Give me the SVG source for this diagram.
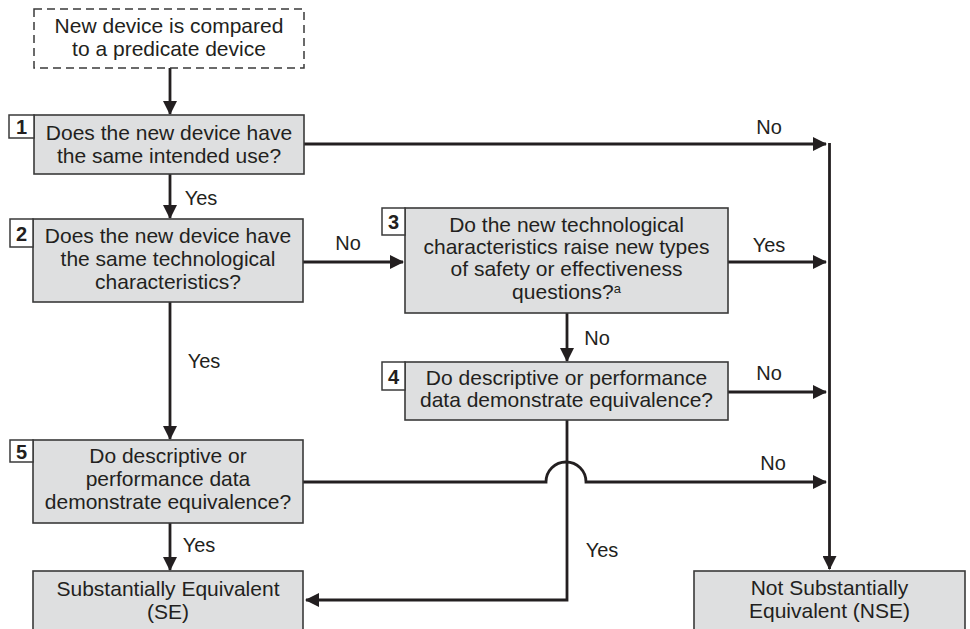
<svg xmlns="http://www.w3.org/2000/svg" width="970" height="629" viewBox="0 0 970 629">
<style>
.box{fill:#dedfe0;stroke:#3a3a3a;stroke-width:1.6}
.start{fill:#fff;stroke:#3a3a3a;stroke-width:1.5;stroke-dasharray:8 5}
.num{fill:#fff;stroke:#3a3a3a;stroke-width:1.5}
.t{font-family:"Liberation Sans",Arial,sans-serif;font-size:21px;fill:#231f20;text-anchor:middle}
.n{font-family:"Liberation Sans",Arial,sans-serif;font-size:20px;font-weight:bold;fill:#231f20;text-anchor:middle}
.lbl{font-family:"Liberation Sans",Arial,sans-serif;font-size:20px;fill:#231f20;text-anchor:middle}
.c{fill:none;stroke:#231f20;stroke-width:2.8}
</style>
<defs>
<marker id="ah" viewBox="0 0 14 14" refX="13" refY="7" markerWidth="14" markerHeight="14" markerUnits="userSpaceOnUse" orient="auto">
<path d="M0,0 L14,7 L0,14 Z" fill="#231f20"/>
</marker>
</defs>

<g id="connectors">
<line class="c" x1="170" y1="68" x2="170" y2="114" marker-end="url(#ah)"/>
<line class="c" x1="170" y1="174" x2="170" y2="218" marker-end="url(#ah)"/>
<line class="c" x1="170" y1="302" x2="170" y2="439" marker-end="url(#ah)"/>
<line class="c" x1="170" y1="523" x2="170" y2="570" marker-end="url(#ah)"/>
<line class="c" x1="304" y1="144" x2="826" y2="144" marker-end="url(#ah)"/>
<line class="c" x1="303" y1="262" x2="403" y2="262" marker-end="url(#ah)"/>
<line class="c" x1="728" y1="262" x2="826" y2="262" marker-end="url(#ah)"/>
<line class="c" x1="567" y1="313" x2="567" y2="361" marker-end="url(#ah)"/>
<line class="c" x1="728" y1="392" x2="826" y2="392" marker-end="url(#ah)"/>
<path class="c" d="M303,482 H546 A20,20 0 0 1 586,482 H826" marker-end="url(#ah)"/>
<path class="c" d="M567,420 V600 H306" marker-end="url(#ah)"/>
<line class="c" x1="829.5" y1="143" x2="829.5" y2="569" marker-end="url(#ah)"/>
<text class="lbl" x="769" y="134">No</text>
<text class="lbl" x="201" y="205">Yes</text>
<text class="lbl" x="348" y="250">No</text>
<text class="lbl" x="769" y="252">Yes</text>
<text class="lbl" x="597" y="345">No</text>
<text class="lbl" x="204" y="368">Yes</text>
<text class="lbl" x="769" y="380">No</text>
<text class="lbl" x="773" y="470">No</text>
<text class="lbl" x="199" y="552">Yes</text>
<text class="lbl" x="602" y="557">Yes</text>
</g>

<g id="start">
<rect class="start" x="34" y="9" width="270" height="59"/>
<text class="t" x="169" y="33">New device is compared</text>
<text class="t" x="169" y="56">to a predicate device</text>
</g>

<g id="q1">
<rect class="box" x="34" y="115" width="270" height="59"/>
<rect class="num" x="9" y="115" width="25" height="23"/>
<text class="n" x="21.5" y="134">1</text>
<text class="t" x="169" y="140">Does the new device have</text>
<text class="t" x="169" y="163">the same intended use?</text>
</g>

<g id="q2">
<rect class="box" x="33" y="219" width="270" height="83"/>
<rect class="num" x="10" y="219" width="23" height="28"/>
<text class="n" x="21.5" y="241">2</text>
<text class="t" x="168" y="243">Does the new device have</text>
<text class="t" x="168" y="266">the same technological</text>
<text class="t" x="168" y="289">characteristics?</text>
</g>

<g id="q3">
<rect class="box" x="405" y="208" width="323" height="105"/>
<rect class="num" x="382" y="208" width="23" height="27"/>
<text class="n" x="393.5" y="229">3</text>
<text class="t" x="566.5" y="232">Do the new technological</text>
<text class="t" x="566.5" y="254">characteristics raise new types</text>
<text class="t" x="566.5" y="276">of safety or effectiveness</text>
<text class="t" x="566.5" y="299">questions?<tspan font-size="13" dy="-6">a</tspan></text>
</g>

<g id="q4">
<rect class="box" x="405" y="362" width="323" height="58"/>
<rect class="num" x="382" y="362" width="23" height="28"/>
<text class="n" x="393.5" y="384">4</text>
<text class="t" x="566.5" y="385">Do descriptive or performance</text>
<text class="t" x="566.5" y="407">data demonstrate equivalence?</text>
</g>

<g id="q5">
<rect class="box" x="33" y="440" width="270" height="83"/>
<rect class="num" x="10" y="440" width="23" height="22"/>
<text class="n" x="21.5" y="459">5</text>
<text class="t" x="168" y="463">Do descriptive or</text>
<text class="t" x="168" y="486">performance data</text>
<text class="t" x="168" y="509">demonstrate equivalence?</text>
</g>

<g id="se">
<rect class="box" x="33" y="571" width="270" height="80"/>
<text class="t" x="168" y="596">Substantially Equivalent</text>
<text class="t" x="168" y="619">(SE)</text>
</g>

<g id="nse">
<rect class="box" x="694" y="571" width="271" height="80"/>
<text class="t" x="829.5" y="595">Not Substantially</text>
<text class="t" x="829.5" y="618">Equivalent (NSE)</text>
</g>
</svg>
